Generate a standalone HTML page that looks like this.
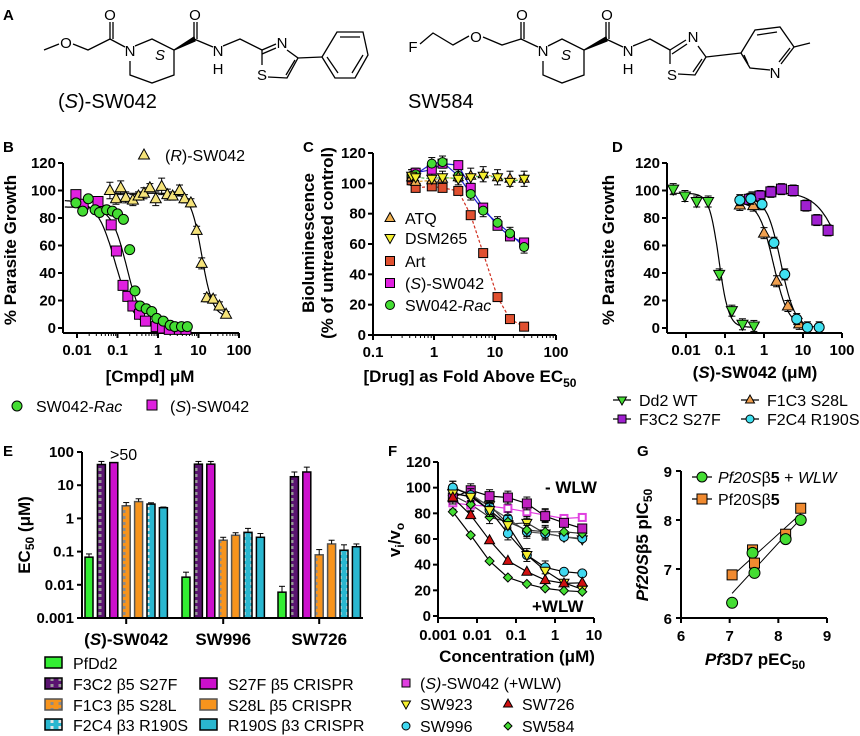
<!DOCTYPE html>
<html><head><meta charset="utf-8">
<style>
html,body{margin:0;padding:0;background:#fff;}
svg{display:block;font-family:"Liberation Sans",Arial,sans-serif;}
.tk{font-size:15px;font-weight:bold;}
.ti{font-size:17px;font-weight:bold;}
.lg{font-size:16px;}
.pl{font-size:15px;font-weight:bold;}
</style></head>
<body>
<svg id="fig" width="860" height="736" viewBox="0 0 860 736" xmlns="http://www.w3.org/2000/svg">
<defs>
<pattern id="pPurple" width="8" height="6" patternUnits="userSpaceOnUse"><rect width="8" height="6" fill="#5a1470"/><rect x="2.5" y="0" width="3" height="3" fill="#9a9a9a"/></pattern>
<pattern id="pOrange" width="8" height="6" patternUnits="userSpaceOnUse"><rect width="8" height="6" fill="#f7941d"/><rect x="2.5" y="0" width="3" height="3" fill="#8a8a8a"/></pattern>
<pattern id="pCyan" width="8" height="6" patternUnits="userSpaceOnUse"><rect width="8" height="6" fill="#2ab7d0"/><rect x="2.5" y="0" width="3" height="3" fill="#e6e6e6"/></pattern>
</defs>
<g id="structs" stroke="#000" stroke-width="1.3" fill="none"></g>
<g id="root"></g>
</svg>
<script>
// ---------- Panel B data ----------
const bRacX=[0.0094,0.0138,0.019,0.028,0.036,0.054,0.075,0.1,0.14,0.2,0.27,0.36,0.51,0.7,0.93,1.35,2,2.6,3.8,5.3];
const bRacY=[91,85,94,86,84,86,85,83,79,57,27,16,14,12,7,5,2,1,1,1];
const bSX=[0.0094,0.0142,0.033,0.07,0.094,0.137,0.18,0.24,0.35,0.49,0.9,1.3,1.9,3.4,4.9];
const bSY=[97,90,92,75,56,31,23,16,10,5,1,0,-1,-1,-1];
const bRX=[0.065,0.092,0.12,0.16,0.24,0.33,0.45,0.63,0.88,1.23,1.7,2.3,3.4,4.5,6.5,9,12,16,23,33,48];
const bRY=[100,94,102,95,93,96,98,102,94,103,97,96,100,94,91,71,47,22,21,16,10];
const bRErr=[6,4,5,4,4,3,4,3,5,6,4,3,4,3,3,3,4,3,3,3,2];
const bXTicks=[0.01,0.1,1,10,100];
const bYTicks=[0,20,40,60,80,100,120];
// ---------- Panel C data ----------
const cX=[0.43,0.5,0.92,1.38,2.5,4.0,6.4,11,17.6,30];
const cATQ=[104,101,102,103,104,105,106,104,103,103];
const cDSM=[105,104,103,104,103,104,105,104,101,103];
const cArt=[102,97,98,97,95,79,54,25,10.5,5.5];
const cS=[104,107,109,113,112,97,84,72,65,61];
const cRac=[105,106,113,114,105,93,82,74,67,58];
const cXTicks=[0.1,1,10,100];
const cYTicks=[0,20,40,60,80,100,120];
// ---------- Panel D data ----------
const dDd2X=[0.0047,0.0094,0.0188,0.037,0.071,0.15,0.28,0.55];
const dDd2Y=[101,96,92,92,39,12.6,2.7,1.5];
const dF3X=[0.42,0.79,1.5,2.8,5.6,11.9,22.6,44];
const dF3Y=[93.6,96,99,101,100,89,78.5,71];
const dF1X=[0.24,0.53,1.0,2.1,4.1,8];
const dF1Y=[89.5,89,69,34,16,3];
const dF2X=[0.24,0.46,0.89,1.8,3.4,6.9,13,26];
const dF2Y=[93,94,90,62,39,6.5,0.5,0.5];
const dXTicks=[0.01,0.1,1,10,100];
const dYTicks=[0,20,40,60,80,100,120];
// ---------- Panel E data ----------
const eGroups=["(S)-SW042","SW996","SW726"];
const eStrains=["PfDd2","F3C2 β5 S27F","S27F β5 CRISPR","F1C3 β5 S28L","S28L β5 CRISPR","F2C4 β3 R190S","R190S β3 CRISPR"];
const eVals=[[0.068,42,48,2.4,3.2,2.7,2.1],[0.017,43,43,0.22,0.31,0.38,0.27],[0.006,18,25,0.08,0.17,0.11,0.14]];
const eErr=[[0.017,10,0,0.6,0.7,0.25,0.1],[0.007,9,9,0.05,0.06,0.12,0.08],[0.003,7,10,0.035,0.05,0.05,0.03]];
const eYTicks=[0.001,0.01,0.1,1,10,100];
// ---------- Panel F data ----------
const fX=[0.0024,0.0069,0.021,0.062,0.19,0.56,1.7,5];
const fSfill=[92.3,98,93.4,92.3,87.7,77.8,72.6,68.2];
const fSopen=[88.2,86.4,85.6,83.8,81.2,78.6,76,76.8];
const f923m=[96,92.9,86.4,71.6,72.6,64.3,61.7,59.7];
const f996m=[100,95,85,76,65.6,64.3,61.7,60.5];
const f584m=[94,87,77,73.4,67,65.6,65.6,64.3];
const f996p=[100,94.2,82.5,64.3,47.5,37.9,34.5,33.2];
const f923p=[95.5,92.9,82.5,70.8,47.5,35.3,25.9,20.8];
const f726p=[92.3,78.6,59,43,34.5,28,25.4,25.9];
const f584p=[81.2,63,42.8,30,25,21.5,19.7,18.9];
const fXTicks=[0.001,0.01,0.1,1,10];
const fYTicks=[0,20,40,60,80,100,120];
// ---------- Panel G data ----------
const gX=[7.05,7.47,7.51,8.15,8.46];
const gWLW=[6.31,7.33,6.92,7.61,8.0];
const gNo=[6.88,7.39,7.12,7.71,8.24];
const gTicks=[6,7,8,9];

const NS="http://www.w3.org/2000/svg";
const root=document.getElementById('root');
function mk(tag,attrs,parent,text){const e=document.createElementNS(NS,tag);for(const k in attrs)e.setAttribute(k,attrs[k]);if(text!==undefined)e.textContent=text;(parent||root).appendChild(e);return e;}
function grp(name,parent){const g=mk('g',{},parent);return g;}
function logScale(d0,p0,d1,p1){return v=>p0+(Math.log10(v)-Math.log10(d0))/(Math.log10(d1)-Math.log10(d0))*(p1-p0);}
function linScale(d0,p0,d1,p1){return v=>p0+(v-d0)/(d1-d0)*(p1-p0);}
function fmt(v){return String(v);}
function marker(g,shape,x,y,fill,r){r=r||5;let e;
 if(shape==='circle')e=mk('circle',{cx:x,cy:y,r:r,fill:fill,stroke:'#000','stroke-width':1},g);
 else if(shape==='square')e=mk('rect',{x:x-r,y:y-r,width:2*r,height:2*r,fill:fill,stroke:'#000','stroke-width':1},g);
 else if(shape==='osquare')e=mk('rect',{x:x-r+1,y:y-r+1,width:2*r-2,height:2*r-2,fill:'#fff',stroke:fill,'stroke-width':2},g);
 else if(shape==='tri')e=mk('polygon',{points:`${x},${y-r-1} ${x-r-0.5},${y+r-1} ${x+r+0.5},${y+r-1}`,fill:fill,stroke:'#000','stroke-width':1},g);
 else if(shape==='itri')e=mk('polygon',{points:`${x},${y+r+1} ${x-r-0.5},${y-r+1} ${x+r+0.5},${y-r+1}`,fill:fill,stroke:'#000','stroke-width':1},g);
 else if(shape==='diamond')e=mk('polygon',{points:`${x},${y-r} ${x-r},${y} ${x},${y+r} ${x+r},${y}`,fill:fill,stroke:'#000','stroke-width':1},g);
 return e;}
function axes(g,x0,x1,yb,yt,xs,ys,xt,yt2,xminor){
 mk('line',{x1:x0,y1:yb,x2:x1,y2:yb,stroke:'#000','stroke-width':2},g);
 mk('line',{x1:x0,y1:yb,x2:x0,y2:yt,stroke:'#000','stroke-width':2},g);
 xt.forEach(v=>{const x=xs(v);mk('line',{x1:x,y1:yb,x2:x,y2:yb+5,stroke:'#000','stroke-width':2},g);const t=mk('text',{x:x,y:yb+22,'text-anchor':'middle',class:'tk'},g,fmt(v));});
 if(xminor){for(let d=0;d<xt.length-1;d++)for(let k=2;k<10;k++){const x=xs(xt[d]*k);mk('line',{x1:x,y1:yb,x2:x,y2:yb+3,stroke:'#000','stroke-width':1},g);}}
 yt2.forEach(v=>{const y=ys(v);mk('line',{x1:x0-5,y1:y,x2:x0,y2:y,stroke:'#000','stroke-width':2},g);const t=mk('text',{x:x0-7,y:y+5,'text-anchor':'end',class:'tk'},g,fmt(v));});
}
function sig(x,top,bot,ic,h){return bot+(top-bot)/(1+Math.pow(x/ic,h));}
function curve(g,xs,ys,lo,hi,f,color,dash){let d='';for(let i=0;i<=120;i++){const lx=Math.log10(lo)+(Math.log10(hi)-Math.log10(lo))*i/120;const v=Math.pow(10,lx);d+=(i?'L':'M')+xs(v).toFixed(1)+','+ys(f(v)).toFixed(1);}const p=mk('path',{d:d,fill:'none',stroke:color||'#000','stroke-width':1.2},g);if(dash)p.setAttribute('stroke-dasharray',dash);return p;}
function polyl(g,xs,ys,X,Y,color,dash){let d='';X.forEach((x,i)=>{d+=(i?'L':'M')+xs(x).toFixed(1)+','+ys(Y[i]).toFixed(1);});const p=mk('path',{d:d,fill:'none',stroke:color,'stroke-width':1.2},g);if(dash)p.setAttribute('stroke-dasharray',dash);return p;}
function errb(g,x,y1,y2){mk('line',{x1:x,y1:y1,x2:x,y2:y2,stroke:'#000','stroke-width':1},g);mk('line',{x1:x-3.5,y1:y1,x2:x+3.5,y2:y1,stroke:'#000','stroke-width':1},g);mk('line',{x1:x-3.5,y1:y2,x2:x+3.5,y2:y2,stroke:'#000','stroke-width':1},g);}
function txt(g,x,y,s,cls,name,anchor,extra){const t=mk('text',Object.assign({x:x,y:y,class:cls,'text-anchor':anchor||'start'},extra||{}),g);t.innerHTML=s;return t;}

// ---------- Panel labels ----------
const pls=grp('panel-labels');
[['A',3,20],['B',3,152],['C',303,152],['D',612,152],['E',3,456],['F',388,456],['G',637,456]].forEach(p=>{txt(pls,p[1],p[2],p[0],'pl','panel-label-'+p[0].toLowerCase());});

// ---------- Structures ----------
const st=document.getElementById('structs');
function L(pts,w){mk('polyline',{points:pts.map(p=>p.join(',')).join(' '),'stroke-width':w||1.3},st);}
function T(x,y,s,it){const t=mk('text',{x:x,y:y,'text-anchor':'middle','font-size':15,fill:'#000',stroke:'none','font-style':it?'italic':'normal'},st,s);}
// structure 1
L([[44,50],[59,44]]);T(66,48,'O');L([[73,44],[88,50],[110,39]]);L([[110,39],[110,22]]);L([[113,39],[113,22]]);T(110,20,'O');
L([[110,39],[125,47]]);T(130,56,'N');L([[135,46],[152,39],[174,50],[174,75],[152,83],[130,75],[130,61]]);T(160,60,'S',true);
mk('polygon',{points:'174,50 194,37 195,41',fill:'#000'},st);L([[194,39],[194,22]]);L([[197,39],[197,22]]);T(195,20,'O');L([[194,39],[213,47]]);T(218,56,'N');T(218,74,'H');
L([[223,46],[240,39],[262,50]]);L([[262,50],[276,44]]);L([[262,54],[276,48]]);T(282,48,'N');L([[287,50],[298,58],[287,78],[268,77]]);L([[295,60],[286,75]]);T(262,80,'S');L([[262,65],[262,50]]);
L([[298,58],[322,57]]);L([[322,57],[337,32],[363,32],[368,55],[355,78],[335,78],[322,57]]);L([[340,37],[360,37]]);L([[363,55],[352,73]]);L([[338,73],[327,57]]);
txt(root,58,108,'(<tspan font-style="italic">S</tspan>)-SW042','','compound-label-s-sw042','start',{'font-size':20});
// structure 2
T(413,52,'F');L([[420,44],[433,33],[453,45],[469,36]]);T(476,42,'O');L([[483,37],[502,45],[521,39]]);L([[521,39],[521,22]]);L([[524,39],[524,22]]);T(522,20,'O');
L([[521,39],[538,47]]);T(543,56,'N');L([[548,46],[562,39],[584,50],[584,75],[562,83],[543,75],[543,61]]);T(566,60,'S',true);
mk('polygon',{points:'584,50 606,37 607,41',fill:'#000'},st);L([[606,39],[606,22]]);L([[609,39],[609,22]]);T(607,20,'O');L([[606,39],[623,47]]);T(628,56,'N');T(628,74,'H');
L([[633,46],[650,39],[670,50]]);L([[670,50],[686,40]]);L([[672,54],[687,44]]);T(693,42,'N');L([[698,46],[706,57],[695,75],[678,74]]);L([[702,59],[693,72]]);T(672,80,'S');L([[670,64],[670,50]]);
L([[706,57],[741,53]]);L([[741,53],[755,30],[780,27],[794,47],[781,64]]);L([[770,70],[750,68],[741,53]]);L([[757,35],[777,32]]);L([[790,48],[779,62]]);L([[748,64],[744,55]]);T(775,78,'N');L([[794,47],[810,43]]);
txt(root,408,108,'SW584','','compound-label-sw584','start',{'font-size':20});

// ---------- Panel B ----------
(function(){
const g=grp('panel-b-chart');
const xs=logScale(0.01,77,100,239), ys=linScale(0,328,120,163);
axes(g,63,239,333,163,xs,ys,bXTicks,bYTicks,true);
curve(g,xs,ys,0.005,5,x=>sig(x,93,0,0.09,1.9));
curve(g,xs,ys,0.005,5,x=>sig(x,88,0,0.17,2.3));
curve(g,xs,ys,0.06,50,x=>sig(x,98,8,12,3.2));
bRX.forEach((x,i)=>errb(g,xs(x),ys(bRY[i]+bRErr[i]),ys(bRY[i]-bRErr[i])));
bSX.forEach((x,i)=>{const m=marker(g,'square',xs(x),ys(bSY[i]),'#e020e0');});
bRacX.forEach((x,i)=>{const m=marker(g,'circle',xs(x),ys(bRacY[i]),'#44dd33');});
bRX.forEach((x,i)=>{const m=marker(g,'tri',xs(x),ys(bRY[i]),'#f5e37a');});
txt(g,16,250,'% Parasite Growth','ti','y-axis-title','middle',{transform:'rotate(-90 16 250)','font-size':18});
txt(g,150,382,'[Cmpd] μM','ti','x-axis-title','middle',{'font-size':19});
const l=grp('legend-b',g);
marker(l,'tri',144,155,'#f5e37a');txt(l,165,161,'(<tspan font-style="italic">R</tspan>)-SW042','lg','legend-r-sw042','start',{'font-size':17});
marker(l,'circle',17,406,'#44dd33');txt(l,36,412,'SW042-<tspan font-style="italic">Rac</tspan>','lg','legend-sw042-rac','start',{'font-size':17});
marker(l,'square',152,405,'#e020e0');txt(l,170,412,'(<tspan font-style="italic">S</tspan>)-SW042','lg','legend-s-sw042','start',{'font-size':17});
})();

// ---------- Panel C ----------
(function(){
const g=grp('panel-c-chart');
const xs=logScale(0.1,373,100,556), ys=linScale(0,335,120,153);
axes(g,373,556,335,153,xs,ys,cXTicks,cYTicks,true);
polyl(g,xs,ys,cX,cATQ,'#e0a030','3,2');polyl(g,xs,ys,cX,cDSM,'#4caf50','3,2');polyl(g,xs,ys,cX,cArt,'#d03020','3,2');
polyl(g,xs,ys,cX,cS,'#2020d0');polyl(g,xs,ys,cX,cRac,'#2020d0');
cX.forEach((x,i)=>{errb(g,xs(x),ys(cATQ[i]+5),ys(cATQ[i]-5));errb(g,xs(x),ys(cRac[i]+4),ys(cRac[i]-4));});
const S=[[cArt,'square','#e05030','art'],[cS,'square','#e020e0','s-sw042'],[cRac,'circle','#44dd33','sw042-rac'],[cATQ,'tri','#f0b050','atq'],[cDSM,'itri','#f5f030','dsm265']];
S.forEach(s=>cX.forEach((x,i)=>{const m=marker(g,s[1],xs(x),ys(s[0][i]),s[2],4.5);}));
txt(g,314,243,'Bioluminescence','ti','y-axis-title','middle',{transform:'rotate(-90 314 243)','font-size':16});
txt(g,333,243,'(% of untreated control)','ti','y-axis-title-2','middle',{transform:'rotate(-90 333 243)','font-size':16});
txt(g,470,382,'[Drug] as Fold Above EC<tspan font-size="12" dy="5">50</tspan>','ti','x-axis-title','middle',{'font-size':17});
const l=grp('legend-c',g);
const LG=[['tri','#f0b050','ATQ',218],['itri','#f5f030','DSM265',238],['square','#e05030','Art',261],['square','#e020e0','(<tspan font-style="italic">S</tspan>)-SW042',283],['circle','#44dd33','SW042-<tspan font-style="italic">Rac</tspan>',305]];
LG.forEach(e=>{marker(l,e[0],390,e[3],e[1],4.5);txt(l,405,e[3]+6,e[2],'lg','legend-entry','start',{'font-size':17});});
})();

// ---------- Panel D ----------
(function(){
const g=grp('panel-d-chart');
const xs=logScale(0.01,686,100,842), ys=linScale(0,328,120,163);
axes(g,667,842,333,163,xs,ys,dXTicks,dYTicks,false);
curve(g,xs,ys,0.004,0.6,x=>sig(x,98,0.5,0.07,3.5));
curve(g,xs,ys,0.4,50,x=>sig(x,99,0,120,1.3));
curve(g,xs,ys,0.2,9,x=>sig(x,92,1,1.75,2.3));
curve(g,xs,ys,0.2,30,x=>sig(x,95,0,2.7,2.4));
[[dDd2X,dDd2Y,'itri','#44dd33','dd2-wt'],[dF3X,dF3Y,'square','#a020d0','f3c2'],[dF1X,dF1Y,'tri','#f0a050','f1c3'],[dF2X,dF2Y,'circle','#40e0f0','f2c4']].forEach(s=>s[0].forEach((x,i)=>{errb(g,xs(x),ys(s[1][i]+4),ys(s[1][i]-4));const m=marker(g,s[2],xs(x),ys(s[1][i]),s[3]);}));
txt(g,614,250,'% Parasite Growth','ti','y-axis-title','middle',{transform:'rotate(-90 614 250)','font-size':18});
txt(g,755,378,'(<tspan font-style="italic">S</tspan>)-SW042 (μM)','ti','x-axis-title','middle',{'font-size':16});
const l=grp('legend-d',g);
[[622,400,'itri','#44dd33','Dd2 WT'],[750,400,'tri','#f0a050','F1C3 S28L'],[622,419,'square','#a020d0','F3C2 S27F'],[750,419,'circle','#40e0f0','F2C4 R190S']].forEach(e=>{mk('line',{x1:e[0]-9,y1:e[1],x2:e[0]+9,y2:e[1],stroke:'#000','stroke-width':1.2},l);marker(l,e[2],e[0],e[1],e[3],4);txt(l,e[0]+17,e[1]+6,e[4],'lg','legend-entry','start',{'font-size':16});});
})();

// ---------- Panel E ----------
(function(){
const g=grp('panel-e-chart');
const ys=logScale(0.001,618,100,452);
const fills=['#33ee33','url(#pPurple)','#cc10cc','url(#pOrange)','#f7941d','url(#pCyan)','#2ab7d0'];
const strokes=['#000','#000','#000','#555','#555','#000','#000'];
const gx0=[85,182,278], step=12.4, bw=8;
eGroups.forEach((gn,gi)=>{eVals[gi].forEach((v,si)=>{const x=gx0[gi]+si*step;const r=mk('rect',{x:x,y:ys(v),width:bw,height:618-ys(v),fill:fills[si],stroke:strokes[si],'stroke-width':1.5},g);
 if(eErr[gi][si]>0){const cx=x+bw/2,y2=ys(v+eErr[gi][si]);mk('line',{x1:cx,y1:ys(v),x2:cx,y2:y2,stroke:'#000','stroke-width':1},g);mk('line',{x1:cx-3,y1:y2,x2:cx+3,y2:y2,stroke:'#000','stroke-width':1},g);}});
 const cxg=gx0[gi]+3*step+bw/2;mk('line',{x1:cxg,y1:618,x2:cxg,y2:624,stroke:'#000','stroke-width':2},g);
 txt(g,cxg,645,gn.replace('(S)','(<tspan font-style="italic">S</tspan>)'),'ti','x-group-label','middle');});
mk('line',{x1:82,y1:618,x2:363,y2:618,stroke:'#000','stroke-width':2},g);mk('line',{x1:82,y1:618,x2:82,y2:452,stroke:'#000','stroke-width':2},g);
eYTicks.forEach(v=>{const y=ys(v);mk('line',{x1:77,y1:y,x2:82,y2:y,stroke:'#000','stroke-width':2},g);txt(g,74,y+5,String(v),'tk','y-tick-label','end',{'font-size':14});});
txt(g,110,460,'&gt;50','lg','label-gt50');
txt(g,30,535,'EC<tspan font-size="12" dy="4">50</tspan><tspan dy="-4"> (μM)</tspan>','ti','y-axis-title','middle',{transform:'rotate(-90 30 535)'});
const l=grp('legend-e',g);
const pos=[[45,663],[45,684],[200,684],[45,705],[200,705],[45,725],[200,725]];
eStrains.forEach((s,i)=>{mk('rect',{x:pos[i][0],y:pos[i][1]-6,width:17,height:11,fill:fills[i],stroke:strokes[i],'stroke-width':1.5},l);txt(l,pos[i][0]+28,pos[i][1]+6,s,'lg','legend-entry','start',{'font-size':17});});
})();

// ---------- Panel F ----------
(function(){
const g=grp('panel-f-chart');
const xs=logScale(0.001,438,10,594), ys=linScale(0,616,120,462);
axes(g,438,594,618,462,xs,ys,fXTicks,fYTicks,false);
const S=[[fSopen,'osquare','#e040e0','#e040e0'],[f923m,'itri','#f5f030','#333'],[f996m,'circle','#40d8f0','#555'],[f584m,'diamond','#44dd33','#333'],[fSfill,'square','#c020c0','#000'],[f996p,'circle','#40d8f0','#000'],[f923p,'itri','#f5f030','#000'],[f726p,'tri','#d01010','#000'],[f584p,'diamond','#44dd33','#000']];
S.forEach(s=>polyl(g,xs,ys,fX,s[0],s[3]));
S.forEach((s,k)=>fX.forEach((x,i)=>{if(k<6&&i<6)errb(g,xs(x),ys(s[0][i]+5),ys(s[0][i]-5));const m=marker(g,s[1],xs(x),ys(s[0][i]),s[2],4.5);}));
txt(g,545,493,'- WLW','ti','label-minus-wlw','start',{'font-size':17});
txt(g,532,612,'+WLW','ti','label-plus-wlw','start',{'font-size':17});
txt(g,400,540,'v<tspan font-size="12" dy="4">i</tspan><tspan dy="-4">/v</tspan><tspan font-size="12" dy="4">o</tspan>','ti','y-axis-title','middle',{transform:'rotate(-90 400 540)','font-size':18});
txt(g,517,662,'Concentration (μM)','ti','x-axis-title','middle',{'font-size':16});
const l=grp('legend-f',g);
[[406,683,'square','#e040e0','(<tspan font-style="italic">S)-</tspan>SW042 (+WLW)'],[406,704,'itri','#f5f030','SW923'],[406,726,'circle','#40d8f0','SW996'],[508,704,'tri','#d01010','SW726'],[508,726,'diamond','#44dd33','SW584']].forEach(e=>{marker(l,e[2],e[0],e[1],e[3],4);txt(l,e[0]+14,e[1]+6,e[4],'lg','legend-entry','start',{'font-size':16});});
})();

// ---------- Panel G ----------
(function(){
const g=grp('panel-g-chart');
const xs=linScale(6,681,9,827), ys=linScale(6,618,9,471);
mk('line',{x1:681,y1:618,x2:827,y2:618,stroke:'#000','stroke-width':2},g);mk('line',{x1:681,y1:618,x2:681,y2:471,stroke:'#000','stroke-width':2},g);
gTicks.forEach(v=>{mk('line',{x1:xs(v),y1:618,x2:xs(v),y2:623,stroke:'#000','stroke-width':2},g);txt(g,xs(v),641,String(v),'tk','x-tick-label','middle',{'font-size':16});
 mk('line',{x1:676,y1:ys(v),x2:681,y2:ys(v),stroke:'#000','stroke-width':2},g);txt(g,672,ys(v)+6,String(v),'tk','y-tick-label','end',{'font-size':16});});
function fit(X,Y){const n=X.length,mx=X.reduce((a,b)=>a+b)/n,my=Y.reduce((a,b)=>a+b)/n;let sxy=0,sxx=0;X.forEach((x,i)=>{sxy+=(x-mx)*(Y[i]-my);sxx+=(x-mx)*(x-mx);});const b=sxy/sxx;return [my-b*mx,b];}
[[gWLW],[gNo]].forEach(s=>{const f=fit(gX,s[0]);const x0=Math.min(...gX),x1=Math.max(...gX);mk('line',{x1:xs(x0),y1:ys(f[0]+f[1]*x0),x2:xs(x1),y2:ys(f[0]+f[1]*x1),stroke:'#000','stroke-width':1},g);});
gX.forEach((x,i)=>{let m=marker(g,'square',xs(x),ys(gNo[i]),'#f08a30',5);
 m=marker(g,'circle',xs(x),ys(gWLW[i]),'#44dd33',5.5);});
txt(g,648,545,'<tspan font-style="italic">Pf20S</tspan>β5 pIC<tspan font-size="12" dy="4">50</tspan>','ti','y-axis-title','middle',{transform:'rotate(-90 648 545)','font-size':16});
txt(g,755,665,'<tspan font-style="italic">Pf</tspan>3D7 pEC<tspan font-size="12" dy="4">50</tspan>','ti','x-axis-title','middle');
const l=grp('legend-g',g);
mk('line',{x1:692,y1:477,x2:712,y2:477,stroke:'#000','stroke-width':1.2},l);marker(l,'circle',702,477,'#44dd33',5);txt(l,718,483,'<tspan font-style="italic">Pf20S</tspan>β<tspan font-weight="bold">5</tspan> + <tspan font-style="italic">WLW</tspan>','lg','legend-entry','start',{'font-size':16});
mk('line',{x1:692,y1:499,x2:712,y2:499,stroke:'#000','stroke-width':1.2},l);marker(l,'square',702,499,'#f08a30',5);txt(l,718,505,'Pf20Sβ<tspan font-weight="bold">5</tspan>','lg','legend-entry','start',{'font-size':16});
})();
</script>
</body></html>
